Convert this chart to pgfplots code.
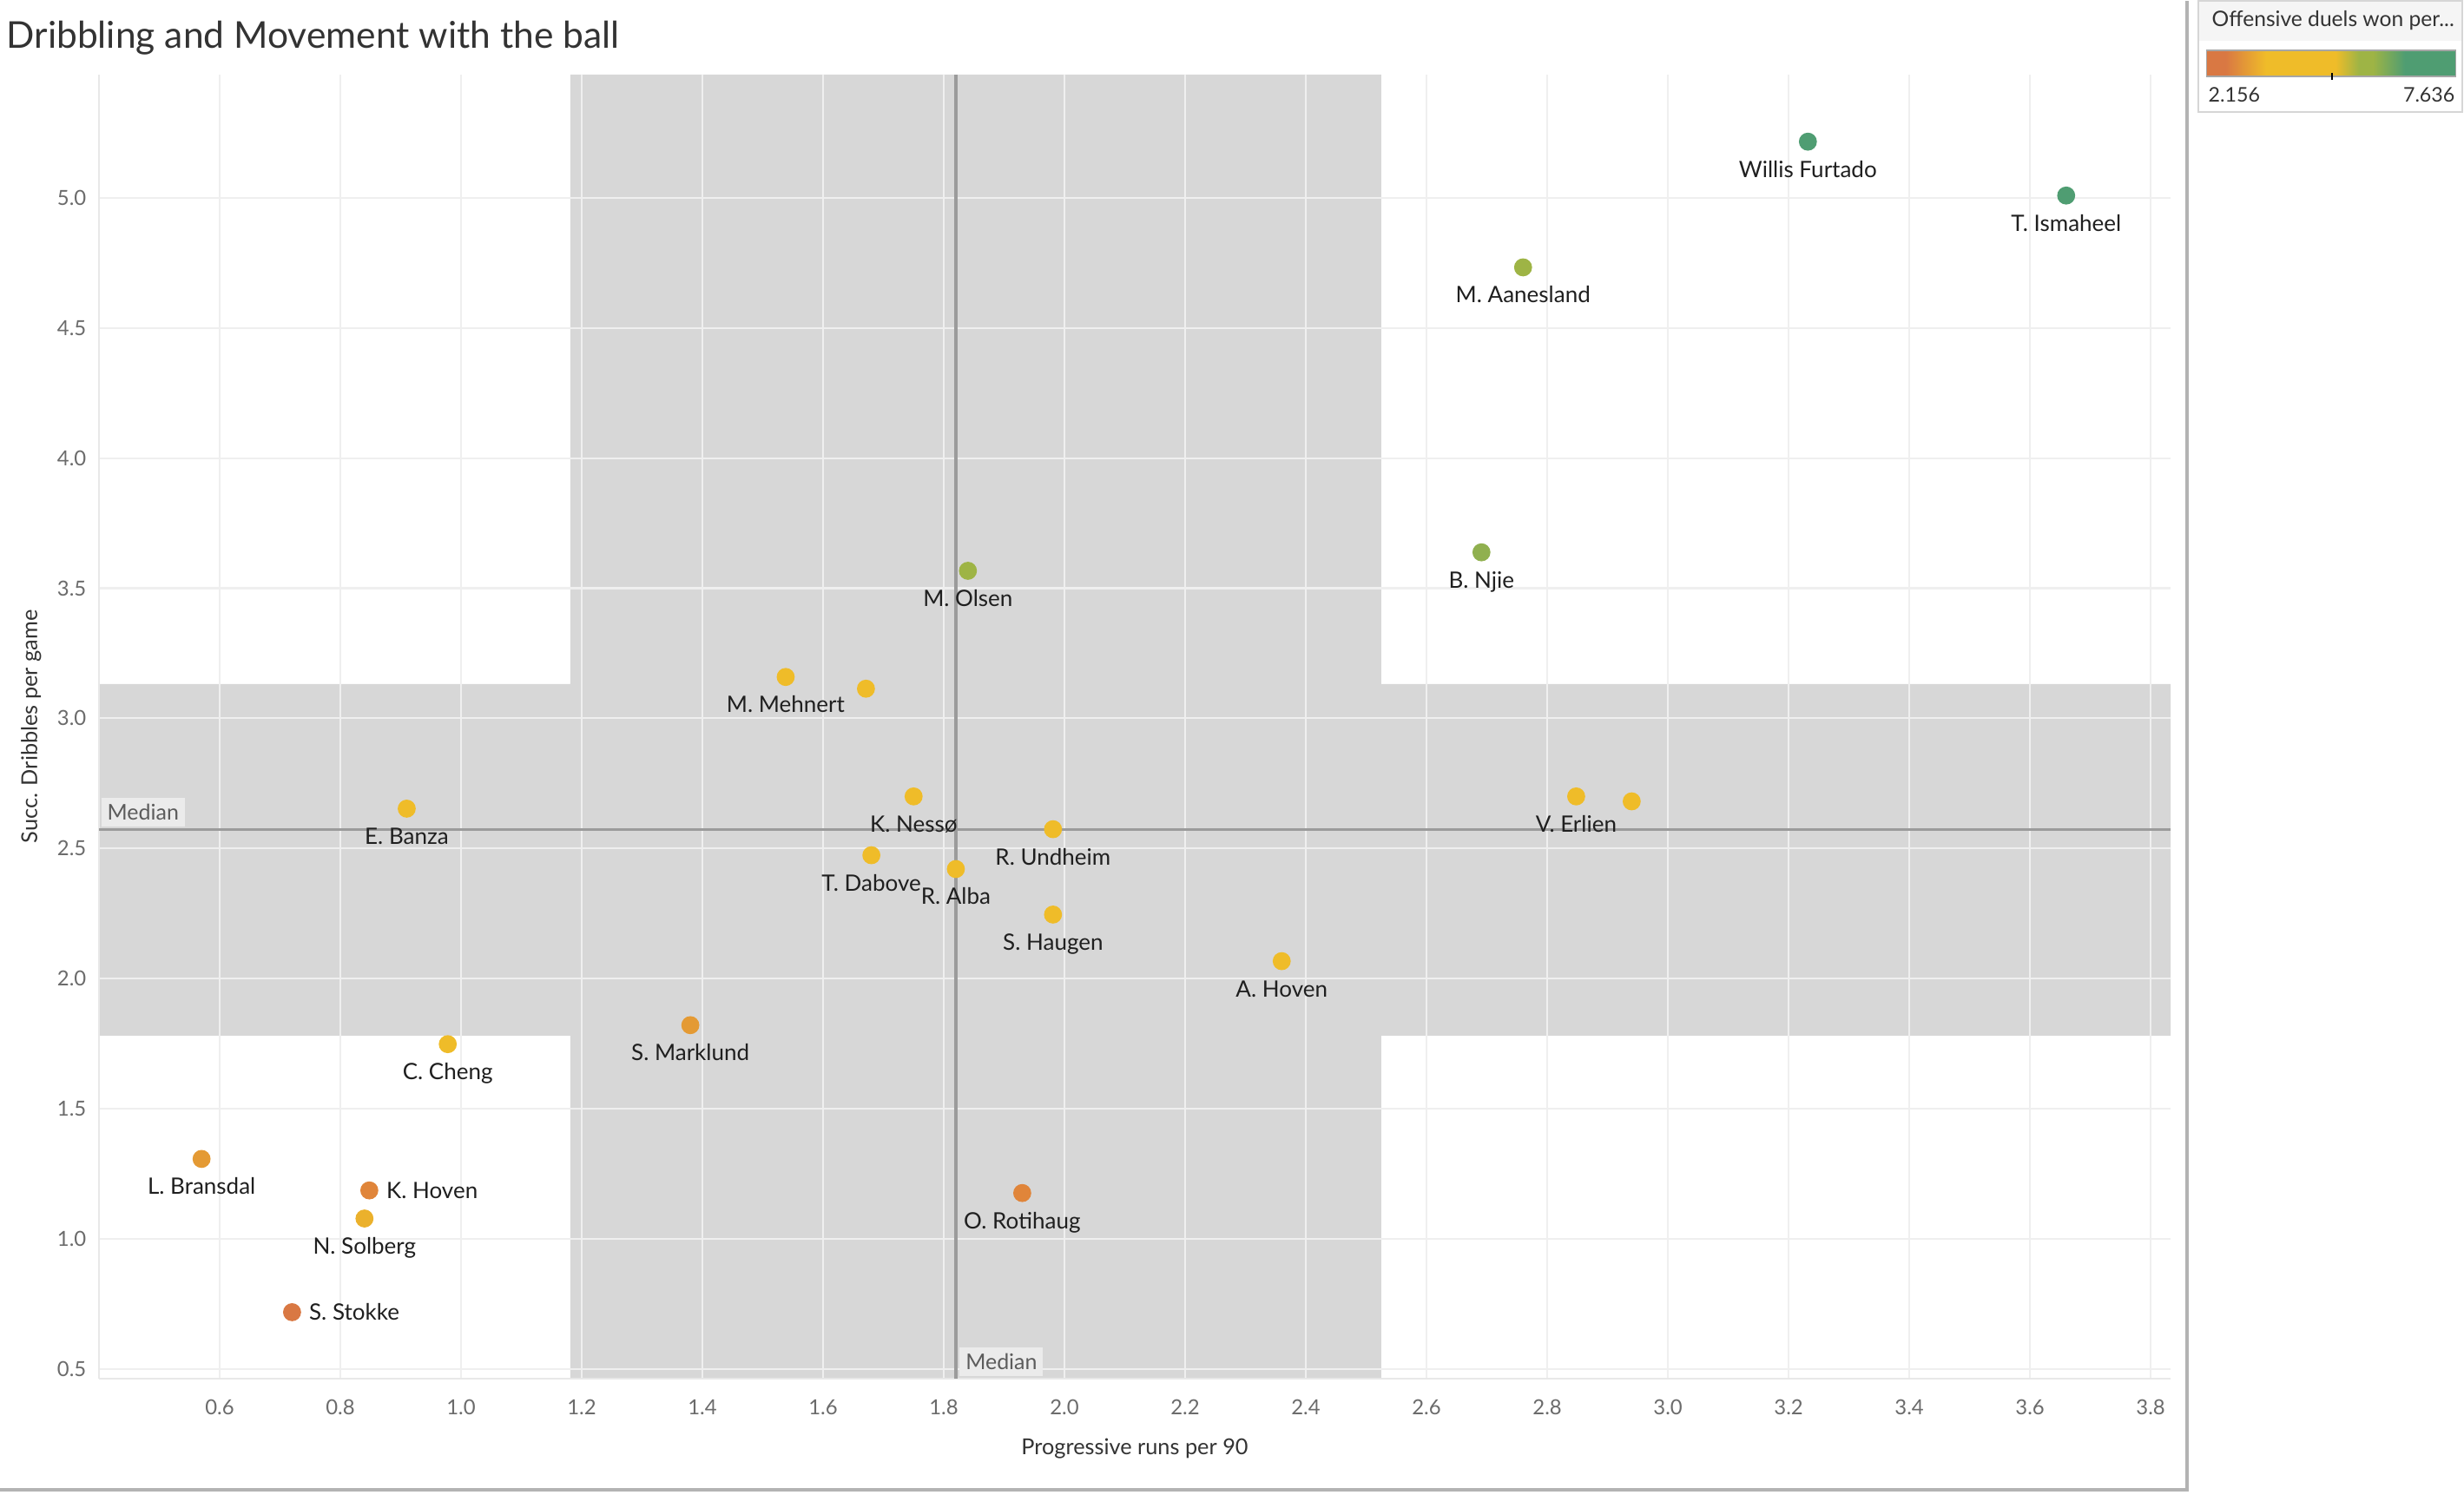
\documentclass[border=0pt]{standalone}
\usepackage{pgfplots}
\pgfplotsset{compat=1.18}
\usepackage{pgfplotstable}
\usepackage{fontspec}
\setmainfont{Lato}

\definecolor{cgreen}{HTML}{4F9D72}
\definecolor{colive}{HTML}{9EB445}
\definecolor{colivetwo}{HTML}{90B04F}
\definecolor{cyellow}{HTML}{EFBC29}
\definecolor{cyellowtwo}{HTML}{EBB12C}
\definecolor{camber}{HTML}{E49A34}
\definecolor{corange}{HTML}{E0853A}
\definecolor{cdorange}{HTML}{D97843}
\definecolor{bandgray}{HTML}{D7D7D7}
\definecolor{gridc}{HTML}{EFEFEF}
\definecolor{medianc}{HTML}{9B9B9B}
\definecolor{medbox}{HTML}{EBEBEB}
\definecolor{medtext}{HTML}{5C5C5C}
\definecolor{axisc}{HTML}{E8E8E8}
\definecolor{tickc}{HTML}{6B6B6B}
\definecolor{labelc}{HTML}{1F1F1F}
\definecolor{titlec}{HTML}{333333}
\definecolor{framec}{HTML}{B3B3B3}
\definecolor{legborder}{HTML}{D6D6D6}
\definecolor{legtitlebg}{HTML}{F5F5F5}

% x = progressive runs per 90, y = successful dribbles per game
\pgfplotstableread[col sep=comma]{
x,y,label
3.232,5.216,Willis Furtado
3.660,5.009,T. Ismaheel
}\tgreen
\pgfplotstableread[col sep=comma]{
x,y,label
2.760,4.733,M. Aanesland
1.840,3.567,M. Olsen
}\tolive
\pgfplotstableread[col sep=comma]{
x,y,label
2.691,3.638,B. Njie
}\tolivetwo
\pgfplotstableread[col sep=comma]{
x,y,label
1.538,3.159,M. Mehnert
1.750,2.700,K. Nessø
1.981,2.574,R. Undheim
1.680,2.474,T. Dabove
1.820,2.421,R. Alba
1.981,2.246,S. Haugen
2.360,2.067,A. Hoven
0.910,2.653,E. Banza
2.848,2.700,V. Erlien
0.978,1.748,C. Cheng
}\tyellow
\pgfplotstableread[col sep=comma]{
x,y
1.671,3.114
2.940,2.681
}\tyellownl
\pgfplotstableread[col sep=comma]{
x,y,label
0.840,1.078,N. Solberg
}\tyellowtwo
\pgfplotstableread[col sep=comma]{
x,y,label
0.570,1.307,L. Bransdal
1.380,1.821,S. Marklund
}\tamber
\pgfplotstableread[col sep=comma]{
x,y,label
1.930,1.176,O. Rotihaug
}\torange
\pgfplotstableread[col sep=comma]{
x,y,label
0.848,1.186,K. Hoven
}\torangeright
\pgfplotstableread[col sep=comma]{
x,y,label
0.720,0.718,S. Stokke
}\tdorange

\begin{document}
\begin{tikzpicture}
\path (0,0) rectangle (28.38,17.21);

\node[anchor=base west, inner sep=0pt, font=\fontsize{12.1}{14}\selectfont, text=titlec] at (0.07,16.66) {Dribbling and Movement with the ball};

\begin{axis}[
  at={(1.14cm,1.34cm)}, anchor=south west,
  scale only axis, width=23.86cm, height=15.02cm,
  xmin=0.4, xmax=3.833, ymin=0.463, ymax=5.474,
  set layers,
  axis x line*=bottom, axis y line*=left,
  axis line style={draw=axisc, line width=0.6pt, -},
  xtick={0.6,0.8,1.0,1.2,1.4,1.6,1.8,2.0,2.2,2.4,2.6,2.8,3.0,3.2,3.4,3.6,3.8},
  ytick={0.5,1.0,1.5,2.0,2.5,3.0,3.5,4.0,4.5,5.0},
  major tick length=0pt,
  grid=major,
  major grid style={draw=gridc, line width=0.6pt},
  /pgf/number format/fixed, /pgf/number format/fixed zerofill,
  /pgf/number format/precision=1,
  /pgf/number format/assume math mode=true,
  ticklabel style={font=\fontsize{6.8}{8}\selectfont, text=tickc},
  xticklabel style={anchor=base, yshift=-0.42cm},
  yticklabel style={anchor=east, inner sep=0pt, xshift=-0.14cm},
  xlabel={Progressive runs per 90},
  ylabel={Succ. Dribbles per game},
  xlabel style={at={(axis description cs:0.5,-0.0586)}, anchor=base, font=\fontsize{7.2}{8}\selectfont, text=titlec},
  ylabel style={at={(axis description cs:-0.0327,0.5)}, anchor=center, font=\fontsize{7.2}{8}\selectfont, text=titlec},
  pt/.style={only marks, mark=*, mark size=2.75pt, color=#1, mark options={draw=none, fill=#1}},
  lblb/.style={
    nodes near coords,
    point meta=explicit symbolic,
    nodes near coords style={anchor=base, yshift=-0.41cm, inner sep=0pt, font=\fontsize{7.4}{9}\selectfont, text=labelc},
  },
  lblr/.style={
    nodes near coords,
    point meta=explicit symbolic,
    nodes near coords style={anchor=base west, xshift=0.19cm, yshift=-0.093cm, inner sep=0pt, font=\fontsize{7.4}{9}\selectfont, text=labelc},
  },
]
% shaded cross-shaped band
\addplot[fill=bandgray, draw=none, on layer=axis background, forget plot] coordinates {
  (1.181,0.463) (2.525,0.463) (2.525,1.781) (3.833,1.781) (3.833,3.132) (2.525,3.132)
  (2.525,5.474) (1.181,5.474) (1.181,3.132) (0.4,3.132) (0.4,1.781) (1.181,1.781) (1.181,0.463)};
% median lines
\addplot[draw=medianc, line width=0.95pt, forget plot] coordinates {(1.820,0.463) (1.820,5.474)};
\addplot[draw=medianc, line width=0.95pt, forget plot] coordinates {(0.4,2.572) (3.833,2.572)};
\node[anchor=south west, fill=medbox, text=medtext, inner sep=0pt, minimum width=0.96cm, minimum height=0.33cm, font=\fontsize{7.1}{8}\selectfont] at (axis cs:0.403,2.582) {Median};
\node[anchor=south west, fill=medbox, text=medtext, inner sep=0pt, minimum width=0.96cm, minimum height=0.33cm, font=\fontsize{7.1}{8}\selectfont] at (axis cs:1.8254,0.470) {Median};

\addplot[pt=cgreen, lblb] table[x=x, y=y, meta=label] {\tgreen};
\addplot[pt=colive, lblb] table[x=x, y=y, meta=label] {\tolive};
\addplot[pt=colivetwo, lblb] table[x=x, y=y, meta=label] {\tolivetwo};
\addplot[pt=cyellow, lblb] table[x=x, y=y, meta=label] {\tyellow};
\addplot[pt=cyellow] table[x=x, y=y] {\tyellownl};
\addplot[pt=cyellowtwo, lblb] table[x=x, y=y, meta=label] {\tyellowtwo};
\addplot[pt=camber, lblb] table[x=x, y=y, meta=label] {\tamber};
\addplot[pt=corange, lblb] table[x=x, y=y, meta=label] {\torange};
\addplot[pt=corange, lblr] table[x=x, y=y, meta=label] {\torangeright};
\addplot[pt=cdorange, lblr] table[x=x, y=y, meta=label] {\tdorange};
\end{axis}

% frame lines
\fill[framec] (25.17,0.04) rectangle (25.21,17.21);
\fill[framec] (0,0.04) rectangle (25.21,0.08);

% colour legend
\fill[legtitlebg] (25.32,16.75) rectangle (28.36,17.21);
\draw[legborder, line width=0.5pt] (25.32,15.93) rectangle (28.36,17.21);
\node[anchor=base west, inner sep=0pt, font=\fontsize{7}{8}\selectfont, text=titlec] at (25.47,16.917) {Offensive duels won per...};
\fill[cdorange] (25.417,16.337) rectangle (25.633,16.637);
\shade[left color=cdorange, right color=cyellow] (25.633,16.337) rectangle (26.10,16.637);
\fill[cyellow] (26.10,16.337) rectangle (26.90,16.637);
\shade[left color=cyellow, right color=colive] (26.90,16.337) rectangle (27.17,16.637);
\fill[colive] (27.17,16.337) rectangle (27.33,16.637);
\shade[left color=colive, right color=cgreen] (27.33,16.337) rectangle (27.70,16.637);
\fill[cgreen] (27.70,16.337) rectangle (28.283,16.637);
\draw[gray!70, line width=0.4pt] (25.417,16.337) rectangle (28.283,16.637);
\draw[black, line width=0.6pt] (26.86,16.38) -- (26.86,16.30);
\node[anchor=base west, inner sep=0pt, font=\fontsize{6.6}{8}\selectfont, text=titlec] at (25.43,16.043) {2.156};
\node[anchor=base east, inner sep=0pt, font=\fontsize{6.6}{8}\selectfont, text=titlec] at (28.28,16.043) {7.636};
\end{tikzpicture}
\end{document}
